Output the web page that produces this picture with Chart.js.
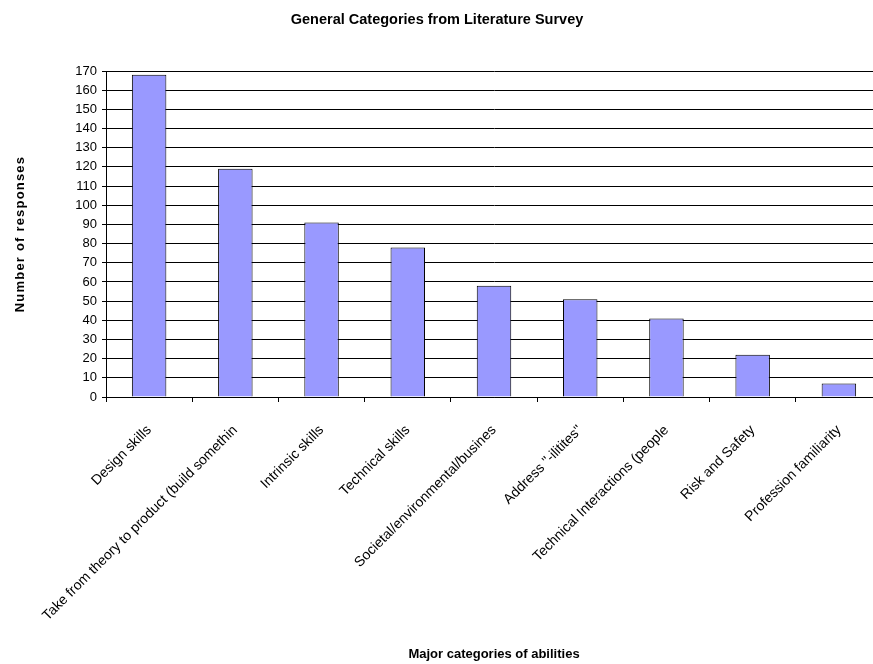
<!DOCTYPE html>
<html><head><meta charset="utf-8">
<script src="https://cdn.jsdelivr.net/npm/chart.js@4"></script>
<style>html,body{margin:0;padding:0;overflow:hidden;background:#fff}#wrap{position:absolute;left:0;top:0;width:900px;height:664px}</style>
</head><body><div id="wrap"><canvas id="c" width="900" height="664"></canvas></div>
<script>
const categories = [
  'Design skills',
  'Take from theory to product (build somethin',
  'Intrinsic skills',
  'Technical skills',
  'Societal/environmental/busines',
  'Address "-ilitites"',
  'Technical Interactions (people',
  'Risk and Safety',
  'Profession familiarity'
];
const responses = [168, 119, 91, 78, 58, 51, 41, 22, 7];
const yMin = 0, yMax = 170, yStep = 10;
const chartTitle = 'General Categories from Literature Survey';
const xTitle = 'Major categories of abilities';
const yTitle = 'Number of responses';

const FONT = '"Liberation Sans", Arial, sans-serif';

const titlesPlugin = {
  id: 'titles',
  afterDraw(chart) {
    const ctx = chart.ctx, a = chart.chartArea;
    ctx.save();
    ctx.fillStyle = '#000';
    ctx.textAlign = 'center';
    ctx.textBaseline = 'middle';
    ctx.font = 'bold 14.5px ' + FONT;
    ctx.fillText(chartTitle, 437, 20);
    ctx.font = 'bold 13px ' + FONT;
    ctx.fillText(xTitle, (a.left + a.right) / 2, 654);
    ctx.translate(20, (a.top + a.bottom) / 2);
    ctx.rotate(-Math.PI / 2);
    try { ctx.letterSpacing = '1.2px'; } catch (e) {}
    ctx.fillText(yTitle, 0, 0);
    ctx.restore();
  }
};

new Chart(document.getElementById('c'), {
  type: 'bar',
  data: {
    labels: categories,
    datasets: [{
      data: responses,
      backgroundColor: '#9999FF',
      borderColor: '#000',
      borderWidth: 1,
      barPercentage: 0.4,
      categoryPercentage: 1
    }]
  },
  options: {
    responsive: false,
    animation: false,
    devicePixelRatio: 1,
    layout: { padding: { top: 71, right: 18, left: 0, bottom: 0 } },
    plugins: { legend: { display: false }, tooltip: { enabled: false }, title: { display: false } },
    scales: {
      x: {
        grid: { display: true, drawOnChartArea: false, drawTicks: true, tickLength: 5, color: '#000', offset: true },
        border: { display: true, color: '#000' },
        ticks: { font: { family: FONT, size: 14 }, color: '#000', minRotation: 45, maxRotation: 45, autoSkip: false, padding: 20 },
        afterFit(s) { s.height = 267; }
      },
      y: {
        min: yMin, max: yMax,
        ticks: { stepSize: yStep, font: { family: FONT, size: 13 }, color: '#000', padding: 5 },
        grid: { color: '#000', tickLength: 4 },
        border: { color: '#000' },
        afterFit(s) { s.width = 106; }
      }
    }
  },
  plugins: [titlesPlugin]
});
</script>
</body></html>
